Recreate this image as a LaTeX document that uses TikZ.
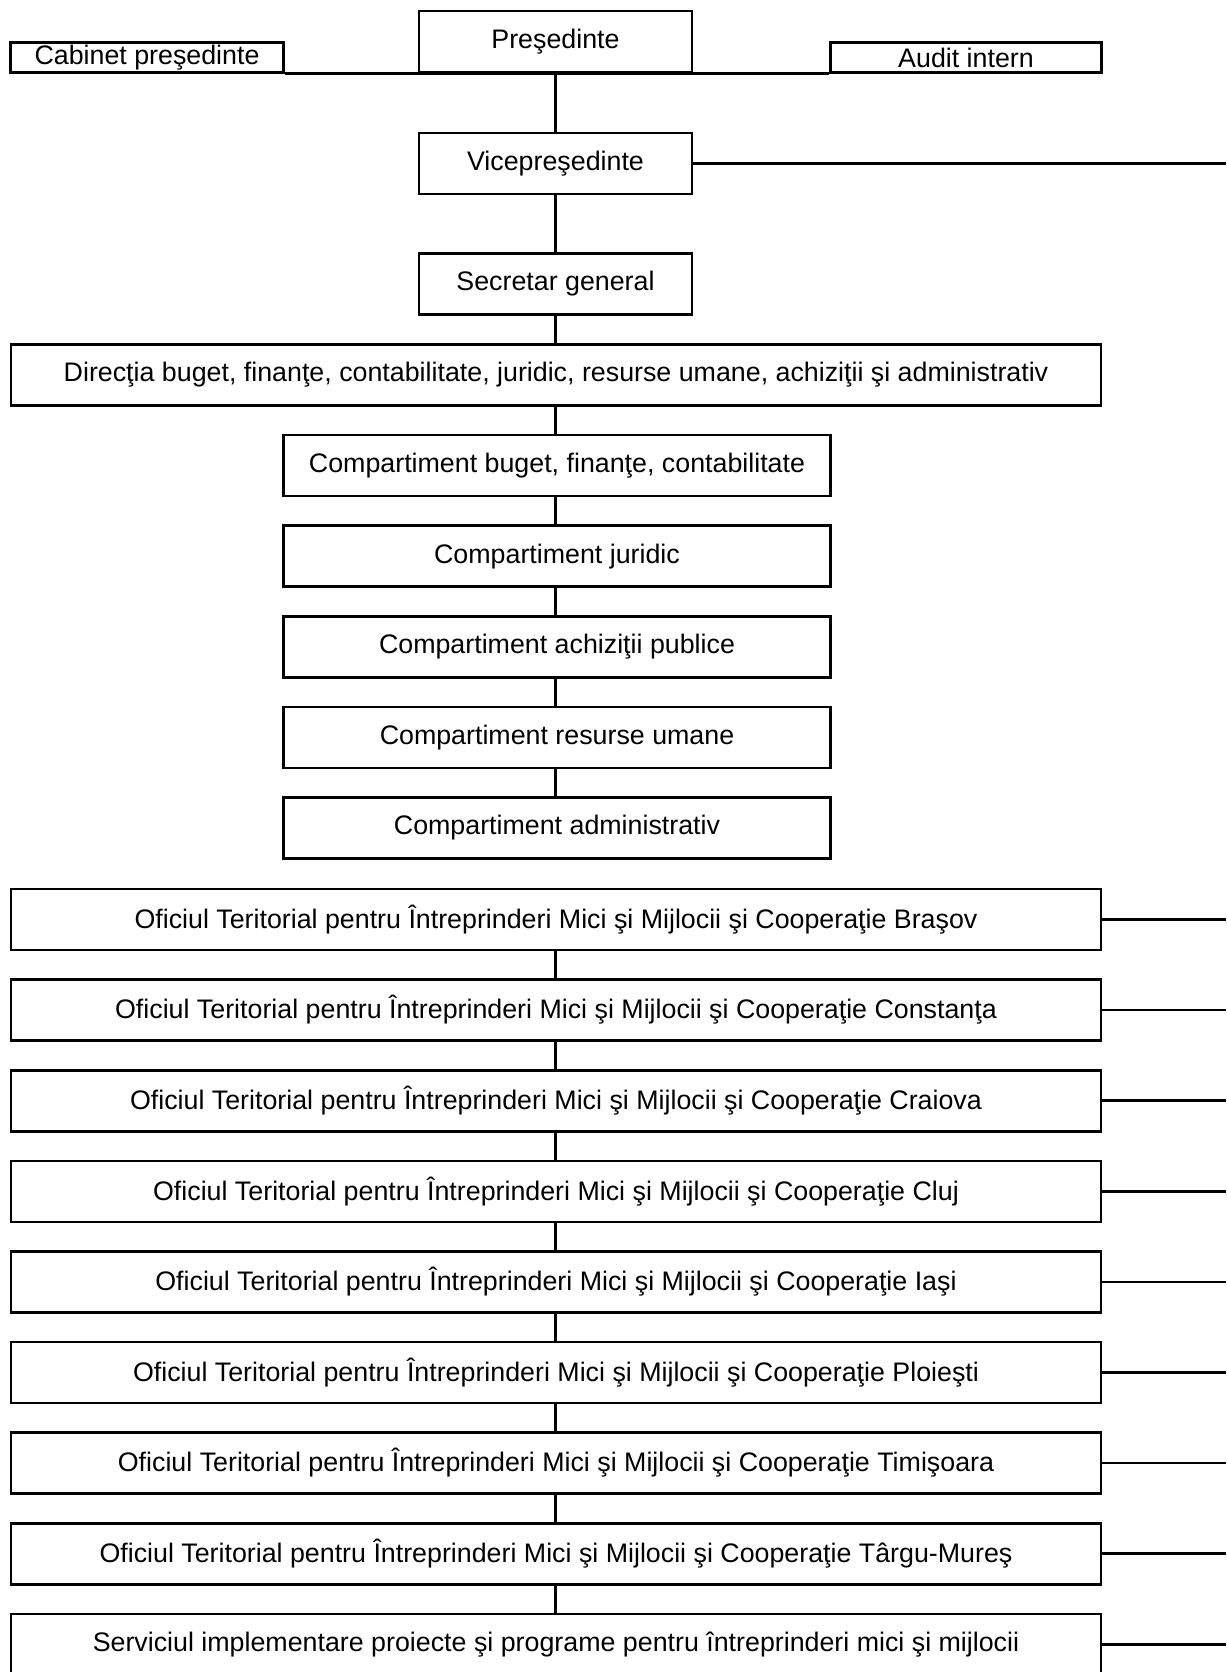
\documentclass[tikz,border=0pt]{standalone}
\usepackage{fontspec}
\setmainfont{Liberation Sans}
\begin{document}
\begin{tikzpicture}[x=1pt,y=-1pt,
  box/.style={draw=black,line width=2.6pt,fill=white,rectangle,inner sep=0pt,font=\fontsize{26.8}{31}\selectfont,align=center},
  conn/.style={draw=black,line width=2.6pt}]
\useasboundingbox (0,0) rectangle (1226,1672);
% top row
\node[box,minimum width=273pt,minimum height=61pt,yshift=0.5pt] (pres) at (555.5,42) {\raisebox{-2pt}{Preşedinte}};
\node[box,minimum width=273pt,minimum height=30pt] (cab) at (147,57.5) {Cabinet preşedinte};
\node[box,minimum width=271pt,minimum height=30pt] (aud) at (966,57.5) {Audit intern};
\draw[conn] (cab.south east) -- (aud.south west);
\node[box,minimum width=273pt,minimum height=61pt] (vice) at (555.5,163.5) {Vicepreşedinte};
\node[box,minimum width=273pt,minimum height=61pt] (sec) at (555.5,284) {Secretar general};
\node[box,minimum width=1090pt,minimum height=61pt] (dir) at (556,375) {Direcţia buget, finanţe, contabilitate, juridic, resurse umane, achiziţii şi administrativ};
\coordinate (vr) at (1226,163.5);
\draw[conn] (pres.south) -- (vice.north);
\draw[conn] (vice.south) -- (sec.north);
\draw[conn] (sec.south) -- (sec.south |- dir.north);
\draw[conn] (vice.east) -- (vr);
% compartimente
\foreach \i/\t in {0/{Compartiment buget, finanţe, contabilitate},1/{Compartiment juridic},2/{Compartiment achiziţii publice},3/{Compartiment resurse umane},4/{Compartiment administrativ}}{
  \node[box,minimum width=547pt,minimum height=61pt] (c\i) at (557,465.5+90.6*\i) {\t};
}
\draw[conn] (dir.south -| sec.south) -- (sec.south |- c0.north);
\foreach \a/\b in {0/1,1/2,2/3,3/4}{ \draw[conn] (c\a.south -| sec.south) -- (sec.south |- c\b.north); }
% oficii
\foreach \i/\t in {0/{Oficiul Teritorial pentru Întreprinderi Mici şi Mijlocii şi Cooperaţie Braşov},
  1/{Oficiul Teritorial pentru Întreprinderi Mici şi Mijlocii şi Cooperaţie Constanţa},
  2/{Oficiul Teritorial pentru Întreprinderi Mici şi Mijlocii şi Cooperaţie Craiova},
  3/{Oficiul Teritorial pentru Întreprinderi Mici şi Mijlocii şi Cooperaţie Cluj},
  4/{Oficiul Teritorial pentru Întreprinderi Mici şi Mijlocii şi Cooperaţie Iaşi},
  5/{Oficiul Teritorial pentru Întreprinderi Mici şi Mijlocii şi Cooperaţie Ploieşti},
  6/{Oficiul Teritorial pentru Întreprinderi Mici şi Mijlocii şi Cooperaţie Timişoara},
  7/{Oficiul Teritorial pentru Întreprinderi Mici şi Mijlocii şi Cooperaţie Târgu-Mureş},
  8/{Serviciul implementare proiecte şi programe pentru întreprinderi mici şi mijlocii}}{
  \node[box,minimum width=1090pt,minimum height=61pt] (o\i) at (556,919.5+90.6*\i) {\t};
  \coordinate (or\i) at (1226,919.5+90.6*\i);
  \draw[conn] (o\i.east) -- (or\i);
}
\foreach \a/\b in {0/1,1/2,2/3,3/4,4/5,5/6,6/7,7/8}{ \draw[conn] (o\a.south -| sec.south) -- (sec.south |- o\b.north); }
\end{tikzpicture}
\end{document}
